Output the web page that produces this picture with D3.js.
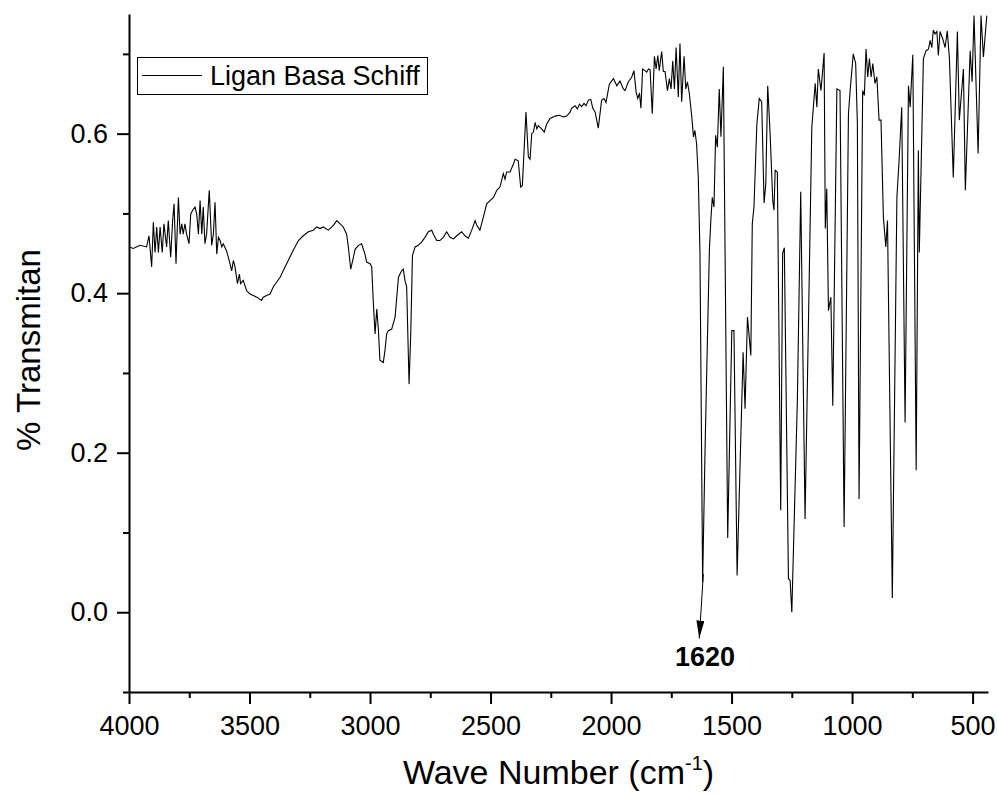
<!DOCTYPE html>
<html>
<head>
<meta charset="utf-8">
<script src="https://cdn.jsdelivr.net/npm/d3@7"></script>
<style>
  body { margin: 0; background: #fff; }
  svg text { font-family: "Liberation Sans", Arial, sans-serif; fill: #000; }
</style>
</head>
<body>
<svg id="ftir-chart"></svg>
<script>
// FTIR spectrum of the Schiff base ligand

const waveNumber = [
  4000, 3982, 3954, 3927, 3917, 3906, 3899, 3892, 3885, 3878, 3871, 3862, 3855, 3844, 3837, 3827,
  3819, 3813, 3805, 3795, 3788, 3781, 3775, 3768, 3761, 3751, 3744, 3736, 3726, 3719, 3712, 3705,
  3698, 3692, 3685, 3678, 3667, 3657, 3650, 3643, 3636, 3629, 3622, 3615, 3609, 3595, 3581, 3574,
  3567, 3560, 3550, 3542, 3537, 3526, 3512, 3498, 3484, 3470, 3450, 3443, 3429, 3415, 3401, 3373,
  3346, 3318, 3297, 3277, 3256, 3235, 3221, 3207, 3194, 3173, 3152, 3138, 3124, 3111, 3097, 3090,
  3080, 3069, 3062, 3048, 3035, 3021, 3014, 3000, 2993, 2986, 2979, 2972, 2965, 2959, 2945, 2938,
  2931, 2924, 2910, 2896, 2882, 2869, 2862, 2855, 2848, 2838, 2831, 2824, 2813, 2800, 2786, 2772,
  2758, 2744, 2737, 2723, 2710, 2696, 2682, 2668, 2654, 2640, 2620, 2606, 2592, 2578, 2564, 2557,
  2544, 2530, 2516, 2502, 2488, 2474, 2461, 2447, 2440, 2433, 2419, 2405, 2398, 2385, 2375, 2368,
  2353, 2343, 2336, 2329, 2322, 2315, 2308, 2302, 2288, 2277, 2267, 2253, 2232, 2214, 2198, 2184,
  2170, 2163, 2149, 2140, 2131, 2122, 2112, 2104, 2094, 2084, 2076, 2066, 2053, 2039, 2029, 2021,
  2007, 1990, 1976, 1963, 1949, 1942, 1928, 1914, 1905, 1896, 1889, 1882, 1876, 1869, 1859, 1852,
  1845, 1838, 1829, 1820, 1813, 1806, 1800, 1790, 1783, 1776, 1766, 1758, 1751, 1744, 1737, 1730,
  1721, 1714, 1707, 1697, 1690, 1683, 1675, 1665, 1658, 1652, 1645, 1638, 1631, 1620, 1610, 1592,
  1586, 1580, 1573, 1566, 1559, 1551, 1544, 1534, 1516, 1499, 1490, 1477, 1452, 1444, 1434, 1420,
  1414, 1407, 1395, 1385, 1375, 1365, 1358, 1350, 1340, 1329, 1324, 1319, 1310, 1296, 1288, 1281,
  1264, 1257, 1250, 1227, 1213, 1195, 1167, 1153, 1146, 1140, 1129, 1116, 1111, 1105, 1098, 1088,
  1080, 1063, 1050, 1033, 1015, 1008, 995, 985, 978, 971, 956, 949, 942, 935, 928, 921,
  914, 905, 897, 888, 880, 870, 860, 853, 833, 814, 805, 794, 780, 766, 759, 748,
  734, 725, 721, 704, 693, 683, 676, 669, 663, 656, 648, 642, 635, 624, 614, 605,
  596, 580, 563, 555, 538, 530, 510, 502, 494, 477, 465, 455, 441
];

const transmitan = [
  0.458, 0.456, 0.460, 0.458, 0.472, 0.433, 0.489, 0.451, 0.483, 0.451, 0.483, 0.451, 0.487, 0.458, 0.491, 0.445,
  0.491, 0.512, 0.437, 0.520, 0.474, 0.487, 0.474, 0.487, 0.474, 0.462, 0.499, 0.504, 0.508, 0.499, 0.474, 0.516,
  0.474, 0.508, 0.462, 0.474, 0.529, 0.460, 0.474, 0.514, 0.449, 0.470, 0.466, 0.458, 0.462, 0.453, 0.437, 0.428,
  0.441, 0.433, 0.412, 0.424, 0.412, 0.416, 0.403, 0.399, 0.397, 0.395, 0.391, 0.395, 0.397, 0.399, 0.408, 0.420,
  0.437, 0.454, 0.466, 0.472, 0.477, 0.479, 0.483, 0.481, 0.483, 0.479, 0.485, 0.491, 0.487, 0.483, 0.474, 0.458,
  0.430, 0.445, 0.455, 0.460, 0.462, 0.449, 0.439, 0.437, 0.433, 0.386, 0.349, 0.380, 0.353, 0.316, 0.313, 0.328,
  0.349, 0.353, 0.355, 0.370, 0.420, 0.428, 0.430, 0.416, 0.408, 0.286, 0.349, 0.447, 0.458, 0.460, 0.464, 0.470,
  0.477, 0.479, 0.474, 0.466, 0.466, 0.470, 0.477, 0.470, 0.468, 0.472, 0.477, 0.472, 0.469, 0.479, 0.491, 0.485,
  0.479, 0.495, 0.512, 0.516, 0.520, 0.529, 0.533, 0.550, 0.543, 0.552, 0.552, 0.562, 0.568, 0.566, 0.533, 0.535,
  0.627, 0.571, 0.568, 0.600, 0.602, 0.614, 0.606, 0.610, 0.606, 0.602, 0.612, 0.619, 0.622, 0.623, 0.621, 0.622,
  0.627, 0.632, 0.635, 0.631, 0.637, 0.634, 0.638, 0.635, 0.642, 0.643, 0.632, 0.627, 0.607, 0.642, 0.644, 0.639,
  0.662, 0.669, 0.660, 0.666, 0.656, 0.654, 0.665, 0.671, 0.679, 0.652, 0.644, 0.651, 0.632, 0.681, 0.679, 0.677,
  0.681, 0.680, 0.625, 0.697, 0.681, 0.698, 0.679, 0.703, 0.678, 0.678, 0.654, 0.669, 0.656, 0.691, 0.656, 0.708,
  0.646, 0.713, 0.640, 0.697, 0.656, 0.665, 0.650, 0.621, 0.596, 0.604, 0.587, 0.545, 0.449, 0.038, 0.203, 0.454,
  0.491, 0.520, 0.508, 0.598, 0.583, 0.656, 0.596, 0.684, 0.093, 0.353, 0.353, 0.046, 0.326, 0.255, 0.370, 0.322,
  0.487, 0.508, 0.612, 0.644, 0.640, 0.513, 0.537, 0.660, 0.600, 0.516, 0.504, 0.554, 0.552, 0.128, 0.450, 0.457,
  0.042, 0.040, 0.000, 0.265, 0.527, 0.117, 0.608, 0.663, 0.633, 0.681, 0.654, 0.701, 0.481, 0.531, 0.378, 0.395,
  0.259, 0.656, 0.654, 0.107, 0.625, 0.654, 0.700, 0.688, 0.613, 0.142, 0.654, 0.648, 0.706, 0.671, 0.694, 0.671,
  0.688, 0.663, 0.671, 0.617, 0.617, 0.495, 0.458, 0.491, 0.018, 0.520, 0.566, 0.633, 0.238, 0.660, 0.633, 0.699,
  0.178, 0.579, 0.451, 0.694, 0.704, 0.706, 0.717, 0.708, 0.730, 0.725, 0.728, 0.698, 0.728, 0.719, 0.708, 0.729,
  0.694, 0.545, 0.728, 0.617, 0.681, 0.529, 0.704, 0.665, 0.748, 0.575, 0.748, 0.696, 0.748
];

const xTicks = [4000, 3500, 3000, 2500, 2000, 1500, 1000, 500];
const xMinorTicks = [3750, 3250, 2750, 2250, 1750, 1250, 750];
const yTicks = [0.0, 0.2, 0.4, 0.6];
const yMinorTicks = [-0.1, 0.1, 0.3, 0.5, 0.7];

const seriesName = "Ligan Basa Schiff";
const peakLabel = "1620";
const peakArrow = [[1617, 0.048], [1634, -0.033]];
const peakLabelAt = [1610, -0.068];

const svgWidth = 997;
const svgHeight = 797;
const margin = { top: 14, right: 9, bottom: 105, left: 129 };

const xScale = d3.scaleLinear()
    .domain([4000, 436])
    .range([margin.left, svgWidth - margin.right]);

const yScale = d3.scaleLinear()
    .domain([-0.1, 0.75])
    .range([svgHeight - margin.bottom, margin.top]);

const points = waveNumber.map((w, i) => ({ w: w, t: transmitan[i] }));

const line = d3.line()
    .x(d => xScale(d.w))
    .y(d => yScale(d.t));

function drawSpectrum() {
    const svg = d3.select("#ftir-chart")
        .attr("width", svgWidth)
        .attr("height", svgHeight);

    const defs = svg.append("defs");

    defs.append("clipPath")
        .attr("id", "plot-clip")
        .append("rect")
        .attr("x", margin.left)
        .attr("y", margin.top)
        .attr("width", svgWidth - margin.left - margin.right)
        .attr("height", svgHeight - margin.top - margin.bottom);

    // long narrow filled head like the Origin arrow
    defs.append("marker")
        .attr("id", "arrow-head")
        .attr("viewBox", "0 0 18 8")
        .attr("preserveAspectRatio", "none")
        .attr("refX", 18)
        .attr("refY", 4)
        .attr("markerWidth", 18)
        .attr("markerHeight", 8)
        .attr("markerUnits", "userSpaceOnUse")
        .attr("orient", "auto")
        .append("path")
        .attr("d", "M0,0 L18,4 L0,8 Z")
        .attr("fill", "#000");

    const bottom = svgHeight - margin.bottom;

    // minor ticks first, then major axes on top
    svg.append("g")
        .attr("transform", `translate(0,${bottom})`)
        .call(d3.axisBottom(xScale).tickValues(xMinorTicks).tickSize(6).tickFormat(""))
        .call(g => g.select(".domain").remove());

    svg.append("g")
        .attr("transform", `translate(${margin.left},0)`)
        .call(d3.axisLeft(yScale).tickValues(yMinorTicks).tickSize(6).tickFormat(""))
        .call(g => g.select(".domain").remove());

    svg.append("g")
        .attr("transform", `translate(0,${bottom})`)
        .call(d3.axisBottom(xScale).tickValues(xTicks).tickSize(12).tickSizeOuter(0).tickPadding(12)
            .tickFormat(d3.format("d")));

    svg.append("g")
        .attr("transform", `translate(${margin.left},0)`)
        .call(d3.axisLeft(yScale).tickValues(yTicks).tickSize(12).tickSizeOuter(0).tickPadding(9)
            .tickFormat(d3.format(".1f")));

    svg.selectAll(".tick line").attr("stroke", "#000").attr("stroke-width", 2);
    svg.selectAll(".domain").attr("stroke", "#000").attr("stroke-width", 2);
    svg.selectAll(".tick text")
        .attr("font-size", 27)
        .attr("font-family", "Liberation Sans, Arial, sans-serif");

    svg.append("path")
        .datum(points)
        .attr("clip-path", "url(#plot-clip)")
        .attr("fill", "none")
        .attr("stroke", "#000")
        .attr("stroke-width", 1.1)
        .attr("d", line);

    // peak annotation
    svg.append("line")
        .attr("x1", xScale(peakArrow[0][0]))
        .attr("y1", yScale(peakArrow[0][1]))
        .attr("x2", xScale(peakArrow[1][0]))
        .attr("y2", yScale(peakArrow[1][1]))
        .attr("stroke", "#000")
        .attr("stroke-width", 1)
        .attr("marker-end", "url(#arrow-head)");

    svg.append("text")
        .attr("x", xScale(peakLabelAt[0]))
        .attr("y", yScale(peakLabelAt[1]))
        .attr("text-anchor", "middle")
        .attr("font-size", 27)
        .attr("font-weight", "bold")
        .text(peakLabel);

    // legend
    const legend = svg.append("g");
    legend.append("rect")
        .attr("x", 137.5)
        .attr("y", 57.5)
        .attr("width", 290)
        .attr("height", 37)
        .attr("fill", "#fff")
        .attr("stroke", "#000")
        .attr("stroke-width", 1);
    legend.append("line")
        .attr("x1", 142).attr("x2", 202)
        .attr("y1", 75.5).attr("y2", 75.5)
        .attr("stroke", "#000")
        .attr("stroke-width", 1.1);
    legend.append("text")
        .attr("x", 210)
        .attr("y", 85)
        .attr("font-size", 27)
        .text(seriesName);

    // axis titles
    const xTitle = svg.append("text")
        .attr("x", (margin.left + svgWidth - margin.right) / 2)
        .attr("y", 784)
        .attr("text-anchor", "middle")
        .attr("font-size", 34);
    xTitle.append("tspan").text("Wave Number (cm");
    xTitle.append("tspan").attr("font-size", 20).attr("dy", -14).text("-1");
    xTitle.append("tspan").attr("dy", 14).text(")");

    svg.append("text")
        .attr("transform", "translate(40,350) rotate(-90)")
        .attr("text-anchor", "middle")
        .attr("font-size", 33)
        .text("% Transmitan");
}

document.addEventListener("DOMContentLoaded", drawSpectrum);
</script>
</body>
</html>
